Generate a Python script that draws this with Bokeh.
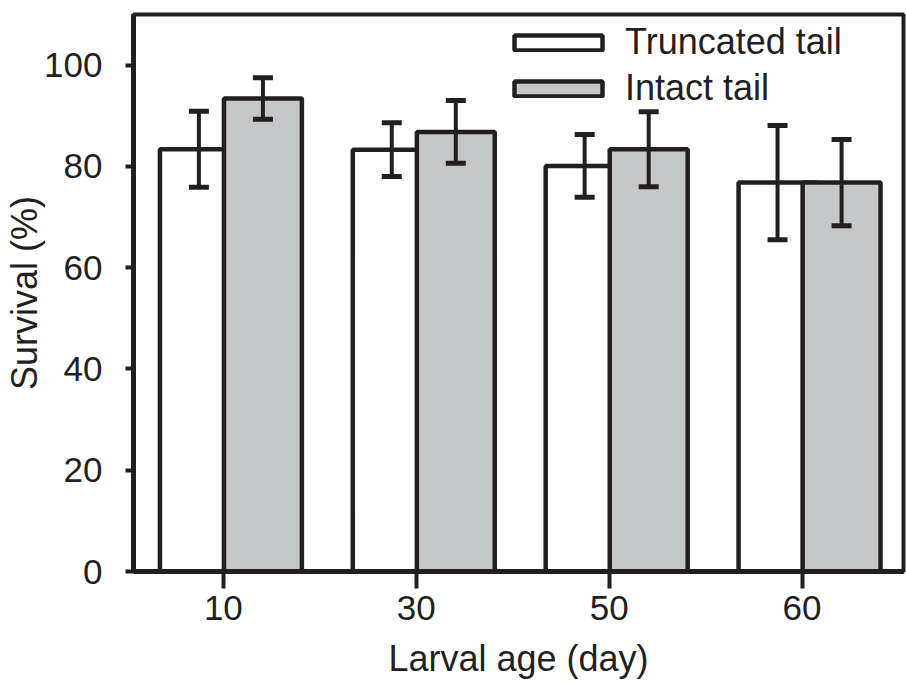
from bokeh.plotting import figure
from bokeh.models import (ColumnDataSource, Whisker, TeeHead, FixedTicker, Legend,
                          LegendItem, Range1d)
from bokeh.transform import dodge
from bokeh.embed import file_html
from bokeh.resources import INLINE

# ---- data ----
ages = ["10", "30", "50", "60"]
truncated = [83.4, 83.3, 80.1, 76.8]
truncated_err = [7.5, 5.3, 6.2, 11.3]
intact = [93.4, 86.8, 83.4, 76.8]
intact_err = [4.1, 6.2, 7.4, 8.5]
y_ticks = [0, 20, 40, 60, 80, 100]

INK = "#231f20"
GRAY = "#c6c7c9"
FONT = "Liberation Sans"

xs = list(range(len(ages)))
src = ColumnDataSource(dict(
    x=xs,
    tr=truncated,
    tr_lo=[v - e for v, e in zip(truncated, truncated_err)],
    tr_hi=[v + e for v, e in zip(truncated, truncated_err)],
    it=intact,
    it_lo=[v - e for v, e in zip(intact, intact_err)],
    it_hi=[v + e for v, e in zip(intact, intact_err)],
))

p = figure(width=906, height=682,
           x_range=Range1d(-0.466, 3.526), y_range=Range1d(0, 110),
           output_backend="svg", toolbar_location=None,
           min_border_left=133, min_border_right=3,
           min_border_top=14, min_border_bottom=111)

p.xgrid.visible = False
p.ygrid.visible = False
p.outline_line_color = INK
p.outline_line_width = 4
p.background_fill_color = "white"
p.border_fill_color = "white"

BW = 0.404
OFF_T = -0.127
OFF_I = 0.205

r1 = p.vbar(x=dodge("x", OFF_T), top="tr", width=BW, bottom=0, source=src,
            fill_color="white", line_color=INK, line_width=4.5)
r2 = p.vbar(x=dodge("x", OFF_I), top="it", width=BW, bottom=0, source=src,
            fill_color=GRAY, line_color=INK, line_width=4.5)

for off, lo, hi in ((OFF_T, "tr_lo", "tr_hi"), (OFF_I, "it_lo", "it_hi")):
    w = Whisker(base=dodge("x", off), lower=lo, upper=hi, source=src,
                level="overlay", line_color=INK, line_width=4,
                upper_head=TeeHead(size=20, line_width=5, line_color=INK),
                lower_head=TeeHead(size=20, line_width=5, line_color=INK))
    p.add_layout(w)

# axes
xa = p.xaxis[0]
xa.ticker = FixedTicker(ticks=xs)
xa.major_label_overrides = {i: a for i, a in zip(xs, ages)}
xa.minor_tick_line_color = None
xa.major_tick_in = 0
xa.major_tick_out = 17
xa.major_tick_line_width = 4
xa.major_tick_line_color = INK
xa.axis_line_width = 5
xa.axis_line_color = INK
xa.major_label_standoff = 7
xa.major_label_text_font = FONT
xa.major_label_text_font_size = "35px"
xa.major_label_text_color = INK
xa.axis_label = "Larval age (day)"
xa.axis_label_text_font = FONT
xa.axis_label_text_font_size = "36px"
xa.axis_label_text_font_style = "normal"
xa.axis_label_text_color = INK
xa.axis_label_standoff = 15

ya = p.yaxis[0]
ya.ticker = FixedTicker(ticks=y_ticks)
ya.minor_tick_line_color = None
ya.major_tick_in = 0
ya.major_tick_out = 8
ya.major_tick_line_width = 4
ya.major_tick_line_color = INK
ya.axis_line_width = 5
ya.axis_line_color = INK
ya.major_label_standoff = 23
ya.major_label_text_font = FONT
ya.major_label_text_font_size = "35px"
ya.major_label_text_color = INK
ya.axis_label = "Survival (%)"
ya.axis_label_text_font = FONT
ya.axis_label_text_font_size = "36px"
ya.axis_label_text_font_style = "normal"
ya.axis_label_text_color = INK
ya.axis_label_standoff = -4

legend = Legend(items=[LegendItem(label="Truncated tail", renderers=[r1]),
                       LegendItem(label="Intact tail", renderers=[r2])],
                location=(370, 462), orientation="vertical",
                border_line_color=None, background_fill_alpha=0,
                padding=0, margin=0, spacing=4,
                glyph_width=110, glyph_height=19, label_standoff=12,
                label_text_font=FONT, label_text_font_size="36px",
                label_text_color=INK)
p.add_layout(legend)

open("out.html", "w").write(file_html(p, INLINE))
